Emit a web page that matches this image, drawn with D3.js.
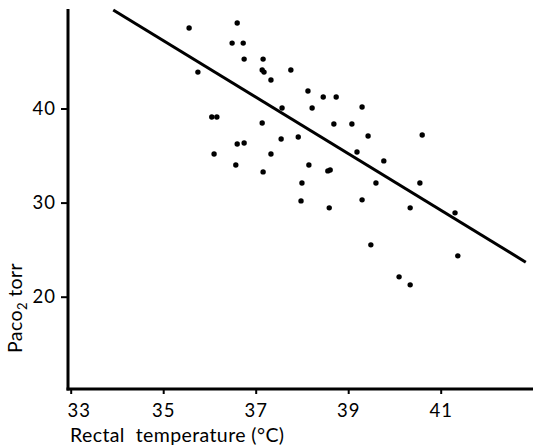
<!DOCTYPE html>
<html>
<head>
<meta charset="utf-8">
<script src="https://cdn.jsdelivr.net/npm/d3@7/dist/d3.min.js"></script>
<style>
  html, body { margin: 0; padding: 0; background: #fff; }
  svg { display: block; }
  text { font-family: Lato, "DejaVu Sans", sans-serif; fill: #000; }
</style>
</head>
<body>
<svg id="chart" width="533" height="447"></svg>
<script>
// Rectal temperature (°C)
const temperature = [35.56, 36.60, 36.49, 36.73, 36.75, 37.16, 35.75, 37.14, 37.18, 37.33,
  37.76, 38.13, 38.46, 38.74, 37.57, 38.22, 39.30, 36.05, 36.16, 37.14,
  38.69, 39.08, 39.43, 40.60, 36.60, 36.75, 37.55, 37.92, 36.10, 37.33,
  39.19, 39.77, 36.57, 38.15, 37.16, 38.56, 38.61, 38.00, 39.60, 40.55,
  37.98, 39.30, 38.59, 40.34, 41.31, 39.49, 41.37, 40.10, 40.34];
// PaCO2 (torr)
const paco2 = [48.55, 49.08, 46.95, 46.95, 45.25, 45.25, 43.87, 44.09, 43.87, 43.03,
  44.09, 41.86, 41.22, 41.22, 40.05, 40.05, 40.16, 39.10, 39.10, 38.46,
  38.35, 38.35, 37.08, 37.19, 36.23, 36.34, 36.76, 36.97, 35.17, 35.17,
  35.38, 34.43, 34.00, 34.00, 33.26, 33.37, 33.47, 32.09, 32.09, 32.09,
  30.18, 30.29, 29.44, 29.44, 28.91, 25.51, 24.34, 22.11, 21.26];
// Regression line end points
const lineTemp = [33.92, 42.84];
const linePaco2 = [50.46, 23.67];
const xTicks = [33, 35, 37, 39, 41];
const yTicks = [20, 30, 40];

const svg = d3.select("#chart");
const x = d3.scaleLinear().domain([33, 43]).range([70.7, 533.2]);
const y = d3.scaleLinear().domain([20, 40]).range([296.7, 108.5]);

const axisX = 68, axisY = 389;

// axes lines
svg.append("line").attr("x1", axisX).attr("x2", axisX).attr("y1", 9).attr("y2", axisY + 1.5)
  .attr("stroke", "#000").attr("stroke-width", 3);
svg.append("line").attr("x1", axisX - 1.5).attr("x2", 533).attr("y1", axisY).attr("y2", axisY)
  .attr("stroke", "#000").attr("stroke-width", 3);

// y axis
const gy = svg.append("g").attr("transform", `translate(${axisX},0)`)
  .call(d3.axisLeft(y).tickValues(yTicks).tickSize(7).tickPadding(5).tickFormat(d3.format("d")));
gy.select(".domain").remove();
gy.selectAll(".tick line").attr("stroke", "#000").attr("stroke-width", 2);
gy.selectAll(".tick text").attr("font-size", 18.5).attr("letter-spacing", 1)
  .attr("font-family", "Lato, sans-serif");

// x axis
const gx = svg.append("g").attr("transform", `translate(0,${axisY})`)
  .call(d3.axisBottom(x).tickValues(xTicks).tickSize(5).tickPadding(10).tickFormat(d3.format("d")));
gx.select(".domain").remove();
gx.selectAll(".tick line").attr("stroke", "#000").attr("stroke-width", 2);
gx.selectAll(".tick text").attr("font-size", 18.5).attr("letter-spacing", 1)
  .attr("font-family", "Lato, sans-serif");
gx.selectAll(".tick text").filter(d => d === 33).attr("dx", 8);

// regression line
svg.append("line")
  .attr("x1", x(lineTemp[0])).attr("y1", y(linePaco2[0]))
  .attr("x2", x(lineTemp[1])).attr("y2", y(linePaco2[1]))
  .attr("stroke", "#000").attr("stroke-width", 3);

// points
svg.append("g").selectAll("circle")
  .data(temperature.map((t, i) => [t, paco2[i]]))
  .join("circle")
  .attr("cx", d => x(d[0])).attr("cy", d => y(d[1]))
  .attr("r", 2.7).attr("fill", "#000");

// titles
svg.append("text").attr("x", 70).attr("y", 442).attr("font-size", 19.5)
  .attr("letter-spacing", 0.4)
  .attr("xml:space", "preserve")
  .text("Rectal  temperature (°C)");

const yt = svg.append("text").attr("transform", "translate(22,353) rotate(-90)")
  .attr("font-size", 19.5).attr("letter-spacing", 0.4);
yt.append("tspan").text("Paco");
yt.append("tspan").attr("font-size", 13).attr("dy", 5).text("2");
yt.append("tspan").attr("dy", -5).text(" torr");
</script>
</body>
</html>
